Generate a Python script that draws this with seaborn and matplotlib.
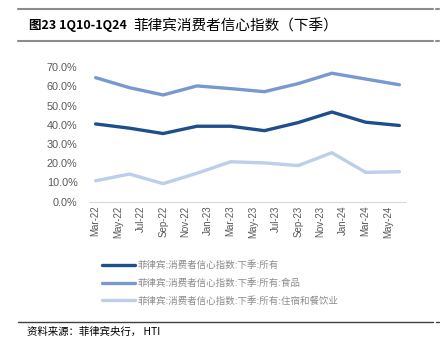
import matplotlib
matplotlib.use("Agg")
import matplotlib.pyplot as plt
from matplotlib.lines import Line2D
import seaborn as sns
import pandas as pd
import numpy as np

# ---- data ----
quarters = ["Mar-22", "Jun-22", "Sep-22", "Dec-22", "Mar-23", "Jun-23",
            "Sep-23", "Dec-23", "Mar-24", "Jun-24"]
series_names = ["菲律宾:消费者信心指数:下季:所有",
                "菲律宾:消费者信心指数:下季:所有:食品",
                "菲律宾:消费者信心指数:下季:所有:住宿和餐饮业"]
all_vals = [40.5, 38.3, 35.5, 39.3, 39.3, 37.0, 41.2, 46.7, 41.4, 39.7]
food_vals = [64.6, 59.4, 55.6, 60.3, 58.9, 57.3, 61.5, 66.9, 63.9, 60.9]
hotel_vals = [10.9, 14.4, 9.4, 14.8, 20.8, 20.2, 18.8, 25.5, 15.3, 15.6]
tick_labels = ["Mar-22", "May-22", "Jul-22", "Sep-22", "Nov-22", "Jan-23", "Mar-23",
               "May-23", "Jul-23", "Sep-23", "Nov-23", "Jan-24", "Mar-24", "May-24"]
colors = ["#1F4E8C", "#7898D2", "#BCCEEA"]

# months since Mar-22 for each quarter
qdates = pd.to_datetime(quarters, format="%b-%y")
months = (qdates.year - 2022) * 12 + (qdates.month - 3)

rows = []
for name, vals in zip(series_names, [all_vals, food_vals, hotel_vals]):
    for m, v in zip(months, vals):
        rows.append({"m": m, "v": v / 100.0, "series": name})
df = pd.DataFrame(rows)

sns.set_style("white")
plt.rcParams['font.family'] = ['Noto Sans CJK SC', 'DejaVu Sans']

fig = plt.figure(figsize=(4.4, 3.43), dpi=100)
ax = fig.add_axes([90/440, 1-201.7/343, 315/440, (201.7-67.3)/343])

sns.lineplot(data=df, x="m", y="v", hue="series", palette=colors,
             hue_order=series_names, linewidth=2.4, ax=ax, legend=False)

ax.set_xlim(-0.5, 27.5)
ax.set_ylim(0, 0.70)
ax.set_xlabel("")
ax.set_ylabel("")

ax.set_yticks(np.arange(0, 0.71, 0.1))
ax.set_yticklabels([f"{v*100:.1f}%" for v in np.arange(0, 0.71, 0.1)],
                   fontsize=7.8, color="#595959", family=["Liberation Sans"])
ax.tick_params(axis="y", length=0, pad=9)

ax.set_xticks(np.arange(0, 27, 2))
ax.set_xticklabels(tick_labels, rotation=90, fontsize=7,
                   color="#595959", family=["Liberation Sans"])
ax.set_xticks(np.arange(-0.5, 27.6, 2), minor=True)
ax.tick_params(axis="x", which="major", length=0, pad=3)
ax.tick_params(axis="x", which="minor", length=4, color="#D9D9D9", width=0.8)

for s in ["left", "right", "top"]:
    ax.spines[s].set_visible(False)
ax.spines["bottom"].set_color("#D9D9D9")
ax.spines["bottom"].set_linewidth(0.8)
ax.grid(False)

# legend
handles = [Line2D([0], [0], color=c, lw=2.4) for c in colors]
fig.legend(handles, series_names, loc="upper left",
           bbox_to_anchor=(98/440, 1-257/343), frameon=False,
           fontsize=6.8, labelcolor="#8C8C8C", handlelength=3.5,
           handletextpad=0.3, labelspacing=0.85, borderaxespad=0)

# decorative rules
for y, c, lw in [(9, "#8C8C8C", 1.5), (41, "#8C8C8C", 1.5), (322, "#404040", 1.0)]:
    yy = 1 - y/343
    fig.add_artist(Line2D([18/440, 433/440], [yy, yy], color=c, lw=lw,
                          transform=fig.transFigure))
    fig.add_artist(Line2D([436/440, 439/440], [yy, yy], color=c, lw=lw,
                          transform=fig.transFigure))

# title
fig.text(29/440, 1-26/343, "图23 1Q10-1Q24", fontsize=9, fontweight="bold",
         va="center", ha="left", color="#000000")
fig.text(133/440, 1-26/343, "菲律宾消费者信心指数（下季）", fontsize=10.5,
         va="center", ha="left", color="#000000")

# source
fig.text(27/440, 1-332/343, "资料来源：菲律宾央行， HTI", fontsize=7.5,
         va="center", ha="left", color="#000000")

fig.savefig("out.png", dpi=100)
